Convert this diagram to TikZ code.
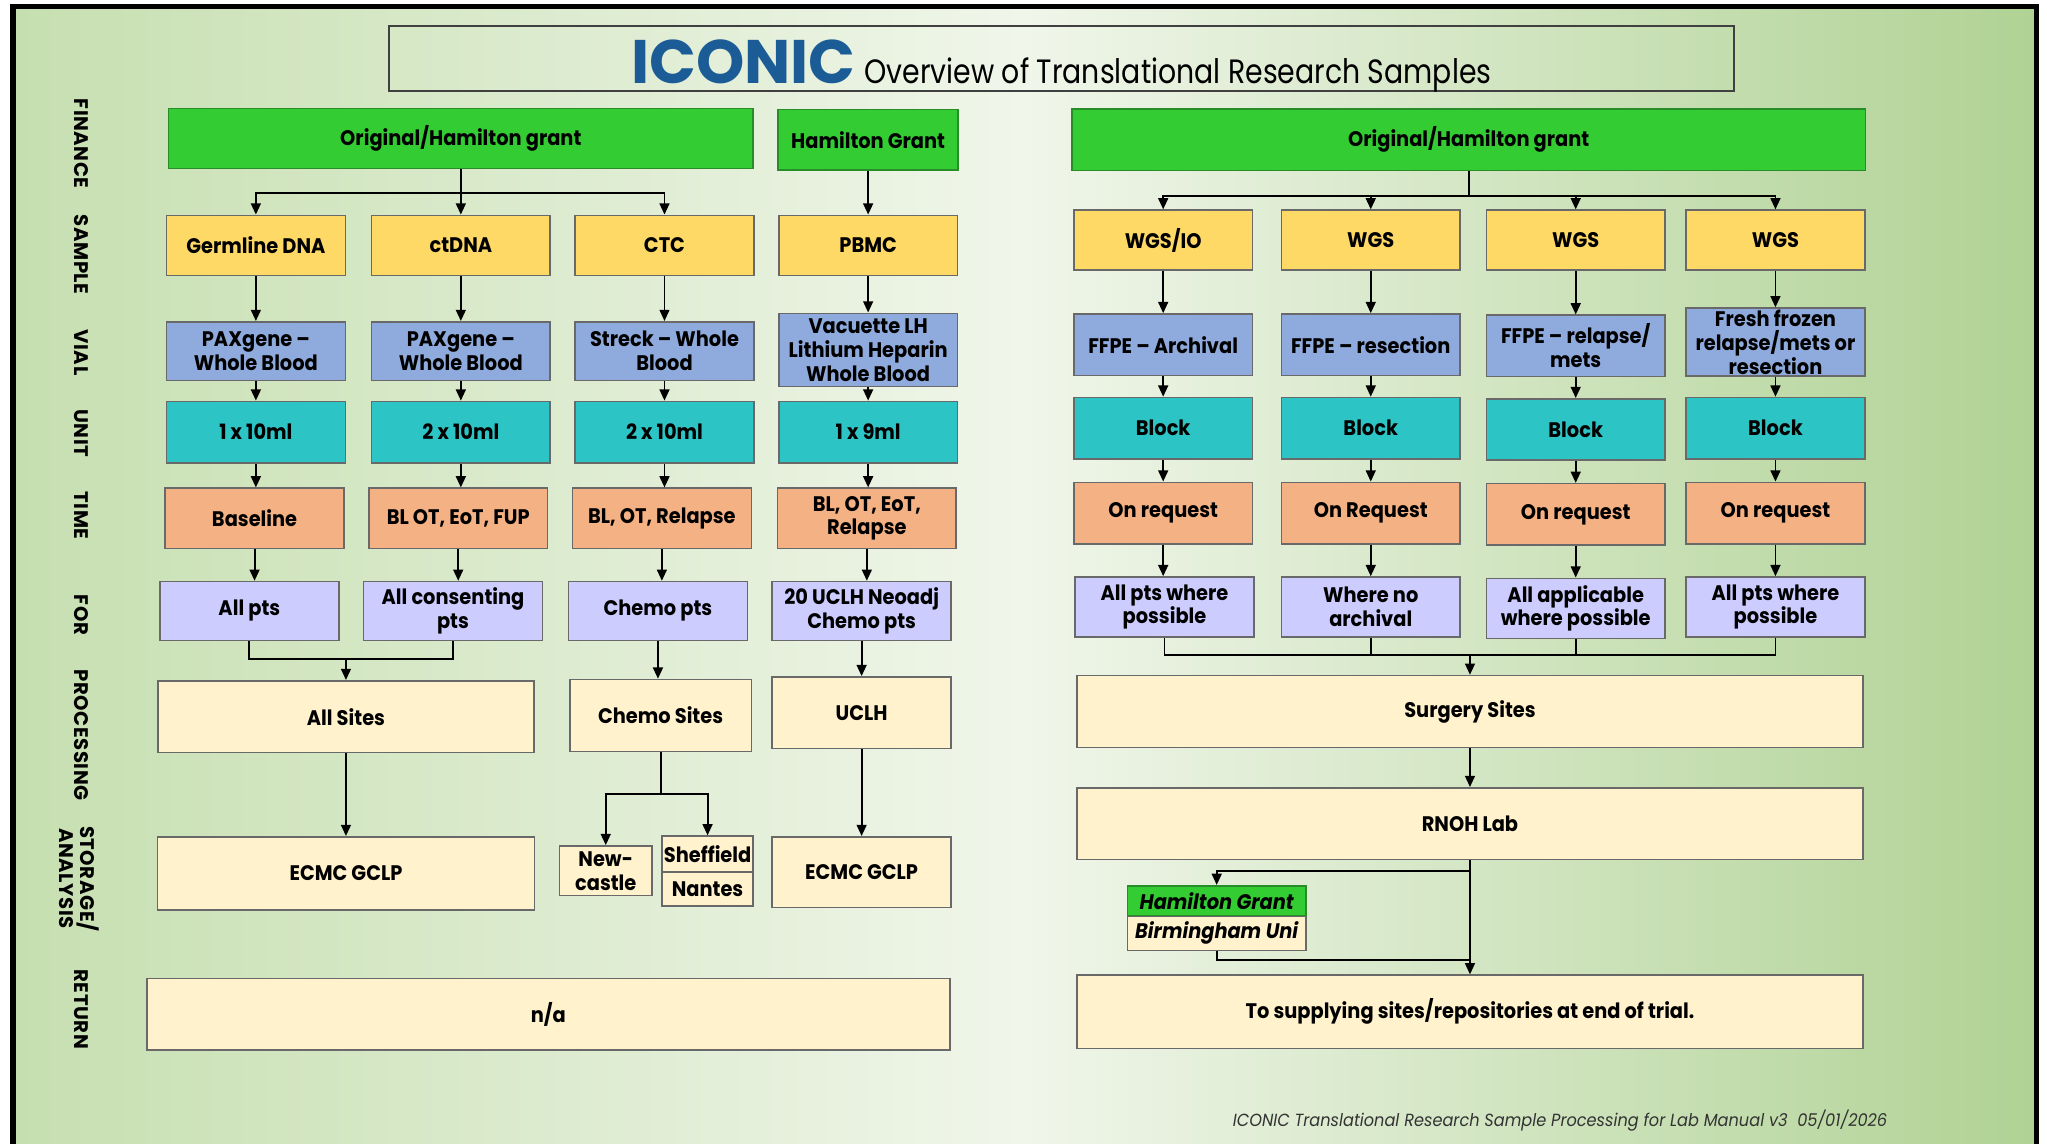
\documentclass[tikz,border=0pt]{standalone}
\usepackage{fontspec}
\setmainfont{Poppins}[FakeStretch=0.92]
\newfontfamily\rowfont{Poppins}[LetterSpace=3]
\newfontfamily\titlefont{Poppins}[FakeStretch=0.84]
\newfontfamily\iconicfont{Poppins}
\usetikzlibrary{arrows.meta}
\definecolor{finfill}{RGB}{51,204,51}
\definecolor{finline}{RGB}{40,140,40}
\definecolor{smpfill}{RGB}{255,217,102}
\definecolor{vialfill}{RGB}{143,170,220}
\definecolor{unitfill}{RGB}{44,196,196}
\definecolor{timefill}{RGB}{244,177,131}
\definecolor{whofill}{RGB}{204,204,255}
\definecolor{procfill}{RGB}{255,242,204}
\definecolor{boxline}{RGB}{105,105,105}
\definecolor{iconicblue}{RGB}{28,92,150}
\definecolor{bgleft}{RGB}{198,223,176}
\definecolor{bgmid}{RGB}{240,246,234}
\definecolor{bgright}{RGB}{176,210,148}
\newcommand{\pxu}{0.013055cm}
\newcommand{\boxfont}{\bfseries\fontsize{6}{6.8}\selectfont}

\begin{document}
\begin{tikzpicture}[x=\pxu, y=-\pxu,
  box/.style={draw=boxline, line width=0.45pt, align=center, inner sep=0pt, font=\boxfont},
  wh/.style 2 args={minimum width=#1*\pxu, minimum height=#2*\pxu},
  col/.style={box, wh={137}{#1}},
  fin/.style={fill=finfill, draw=finline},
  smp/.style={fill=smpfill},
  vial/.style={fill=vialfill},
  unit/.style={fill=unitfill},
  tme/.style={fill=timefill},
  who/.style={fill=whofill},
  proc/.style={fill=procfill},
  rowlbl/.style={rotate=-90, align=center, font=\rowfont\bfseries\fontsize{5.6}{4.8}\selectfont},
  flow/.style={-{Triangle[length=3.2pt,width=2.8pt]}, line width=0.55pt},
  rail/.style={line width=0.55pt}]

\useasboundingbox (0,0) rectangle (1568,876);
\fill[white] (0,0) rectangle (1568,876);
\shade[left color=bgleft, right color=bgright, middle color=bgmid] (10,5) rectangle (1560,876);
\draw[line width=1.6pt] (10,876) -- (10,5) -- (1560,5) -- (1560,876);

\node[draw=black!75, line width=0.6pt, wh={1030}{50}] (title) at (813,45) {};
\node[anchor=base, inner sep=0pt] (titleText) at (813,64)
  {{\iconicfont\bfseries\fontsize{17.5}{18}\selectfont\color{iconicblue}ICONIC}\
   {\titlefont\fontsize{9.6}{10}\selectfont Overview of Translational Research Samples}};

% row labels
\node[rowlbl] (lblFin) at (62,110) {FINANCE};
\node[rowlbl] (lblSmp) at (62,195) {SAMPLE};
\node[rowlbl] (lblVial) at (62,270) {VIAL};
\node[rowlbl] (lblUnit) at (62,332) {UNIT};
\node[rowlbl] (lblTime) at (62,395) {TIME};
\node[rowlbl] (lblFor) at (62,471) {FOR};
\node[rowlbl] (lblProc) at (62,563) {PROCESSING};
\node[rowlbl] (lblStore) at (61,673) {STORAGE/\\ANALYSIS};
\node[rowlbl] (lblRet) at (62,773) {RETURN};

% blood samples
\node[box, fin, wh={448}{46}] (finA) at (353,106) {Original/Hamilton grant};
\node[box, fin, wh={138}{46}] (finB) at (665,107) {Hamilton Grant};

\node[col=46, smp] (smp1) at (196,188) {Germline DNA};
\node[col=46, smp] (smp2) at (353,188) {ctDNA};
\node[col=46, smp] (smp3) at (509,188) {CTC};
\node[col=46, smp] (smp4) at (665,188) {PBMC};

\node[col=45, vial] (vial1) at (196,269) {PAXgene –\\Whole Blood};
\node[col=45, vial] (vial2) at (353,269) {PAXgene –\\Whole Blood};
\node[col=45, vial] (vial3) at (509,269) {Streck – Whole\\Blood};
\node[col=56, vial] (vial4) at (665,268) {Vacuette LH\\Lithium Heparin\\Whole Blood};

\node[col=47, unit] (unit1) at (196,331) {1 x 10ml};
\node[col=47, unit] (unit2) at (353,331) {2 x 10ml};
\node[col=47, unit] (unit3) at (509,331) {2 x 10ml};
\node[col=47, unit] (unit4) at (665,331) {1 x 9ml};

\node[col=46, tme] (tme1) at (195,397) {Baseline};
\node[col=46, tme] (tme2) at (351,397) {BL OT, EoT, FUP};
\node[col=46, tme] (tme3) at (507,397) {BL, OT, Relapse};
\node[col=46, tme] (tme4) at (664,397) {BL, OT, EoT,\\Relapse};

\node[col=45, who] (who1) at (191,468) {All pts};
\node[col=45, who] (who2) at (347,468) {All consenting\\pts};
\node[col=45, who] (who3) at (504,468) {Chemo pts};
\node[col=45, who] (who4) at (660,468) {20 UCLH Neoadj\\Chemo pts};

\node[box, proc, wh={288}{55}] (allSites) at (265,549) {All Sites};
\node[box, proc, wh={139}{55}] (chemoSites) at (506,548) {Chemo Sites};
\node[box, proc, wh={137}{55}] (uclh) at (660,546) {UCLH};

\node[box, proc, wh={289}{56}] (ecmcA) at (265,669) {ECMC GCLP};
\node[box, proc, wh={71}{38}] (newc) at (464,667) {New-\\castle};
\node[box, proc, wh={70}{27}] (sheff) at (542,654) {Sheffield};
\node[box, proc, wh={70}{26}] (nantes) at (542,681) {Nantes};
\node[box, proc, wh={137}{54}] (ecmcB) at (660,668) {ECMC GCLP};

\node[box, proc, wh={615}{55}] (na) at (420,777) {n/a};

% tissue samples
\node[box, fin, wh={608}{47}] (finC) at (1125,107) {Original/Hamilton grant};

\node[col=46, smp] (smp5) at (891,184) {WGS/IO};
\node[col=46, smp] (smp6) at (1050,184) {WGS};
\node[col=46, smp] (smp7) at (1207,184) {WGS};
\node[col=46, smp] (smp8) at (1360,184) {WGS};

\node[col=47, vial] (vial5) at (891,264) {FFPE – Archival};
\node[col=47, vial] (vial6) at (1050,264) {FFPE – resection};
\node[col=47, vial] (vial7) at (1207,265) {FFPE – relapse/\\mets};
\node[col=52, vial] (vial8) at (1360,262) {Fresh frozen\\relapse/mets or\\resection};

\node[col=47, unit] (unit5) at (891,328) {Block};
\node[col=47, unit] (unit6) at (1050,328) {Block};
\node[col=47, unit] (unit7) at (1207,329) {Block};
\node[col=47, unit] (unit8) at (1360,328) {Block};

\node[col=47, tme] (tme5) at (891,393) {On request};
\node[col=47, tme] (tme6) at (1050,393) {On Request};
\node[col=47, tme] (tme7) at (1207,394) {On request};
\node[col=47, tme] (tme8) at (1360,393) {On request};

\node[col=46, who] (who5) at (892,465) {All pts where\\possible};
\node[col=46, who] (who6) at (1050,465) {Where no\\archival};
\node[col=46, who] (who7) at (1207,466) {All applicable\\where possible};
\node[col=46, who] (who8) at (1360,465) {All pts where\\possible};

\node[box, proc, wh={602}{55}] (surg) at (1126,545) {Surgery Sites};
\node[box, proc, wh={602}{55}] (rnoh) at (1126,631) {RNOH Lab};
\node[box, fin, wh={137}{23}, font=\boxfont\itshape] (hg) at (932,690) {Hamilton Grant};
\node[box, proc, wh={137}{26}, font=\boxfont\itshape] (bu) at (932,715) {Birmingham Uni};
\node[box, proc, wh={602}{56}] (ret) at (1126,775) {To supplying sites/repositories at end of trial.};

\node[font=\itshape\fontsize{5}{6}\selectfont, text=black!80] (foot) at (1195,858)
  {ICONIC Translational Research Sample Processing for Lab Manual v3\ \ 05/01/2026};

\coordinate (jL) at (353,148);
\coordinate (mL) at (265,505);
\coordinate (mC) at (506,608);
\coordinate (jR) at (1125,150);
\coordinate (mR) at (1126,502);
\coordinate (bR) at (1126,667);
\coordinate (bR2) at (1126,735);

\draw[rail] (finA) -- (jL);
\draw[flow] (jL) -| (smp1);
\draw[flow] (jL) -- (smp2);
\draw[flow] (jL) -| (smp3);

\path
(finB) edge[flow] (smp4)
(smp1) edge[flow] (vial1)
(smp2) edge[flow] (vial2)
(smp3) edge[flow] (vial3)
(smp4) edge[flow] (vial4)
(vial1) edge[flow] (unit1)
(vial2) edge[flow] (unit2)
(vial3) edge[flow] (unit3)
(vial4) edge[flow] (unit4)
(unit1.south) edge[flow] (unit1.south |- tme1.north)
(unit2.south) edge[flow] (unit2.south |- tme2.north)
(unit3.south) edge[flow] (unit3.south |- tme3.north)
(unit4.south) edge[flow] (unit4.south |- tme4.north)
(tme1.south) edge[flow] (tme1.south |- who1.north)
(tme2.south) edge[flow] (tme2.south |- who2.north)
(tme3.south) edge[flow] (tme3.south |- who3.north)
(tme4.south) edge[flow] (tme4.south |- who4.north)
;

\draw[rail] (who1.south) |- (mL) -| (who2.south);
\draw[flow] (mL) -- (allSites);
\path
(who3.south) edge[flow] (who3.south |- chemoSites.north)
(who4) edge[flow] (uclh)
(allSites) edge[flow] (ecmcA)
(uclh) edge[flow] (ecmcB)
;
\draw[rail] (chemoSites) -- (mC);
\draw[flow] (mC) -| (newc);
\draw[flow] (mC) -| (sheff);

\draw[rail] (finC) -- (jR);
\draw[flow] (jR) -| (smp5);
\draw[flow] (jR) -| (smp6);
\draw[flow] (jR) -| (smp7);
\draw[flow] (jR) -| (smp8);

\path
(smp5) edge[flow] (vial5)
(smp6) edge[flow] (vial6)
(smp7) edge[flow] (vial7)
(smp8) edge[flow] (vial8)
(vial5) edge[flow] (unit5)
(vial6) edge[flow] (unit6)
(vial7) edge[flow] (unit7)
(vial8) edge[flow] (unit8)
(unit5) edge[flow] (tme5)
(unit6) edge[flow] (tme6)
(unit7) edge[flow] (tme7)
(unit8) edge[flow] (tme8)
(tme5.south) edge[flow] (tme5.south |- who5.north)
(tme6) edge[flow] (who6)
(tme7.south) edge[flow] (tme7.south |- who7.north)
(tme8) edge[flow] (who8)
;

\draw[rail] (who5.south) |- (mR) -| (who8.south);
\draw[rail] (who6.south) -- (who6.south |- mR);
\draw[rail] (who7.south) -- (who7.south |- mR);
\draw[flow] (mR) -- (surg);
\draw[flow] (surg) -- (rnoh);
\draw[flow] (rnoh) -- (ret);
\draw[flow] (bR) -| (hg);
\draw[rail] (bu.south) |- (bR2);

\end{tikzpicture}
\end{document}
